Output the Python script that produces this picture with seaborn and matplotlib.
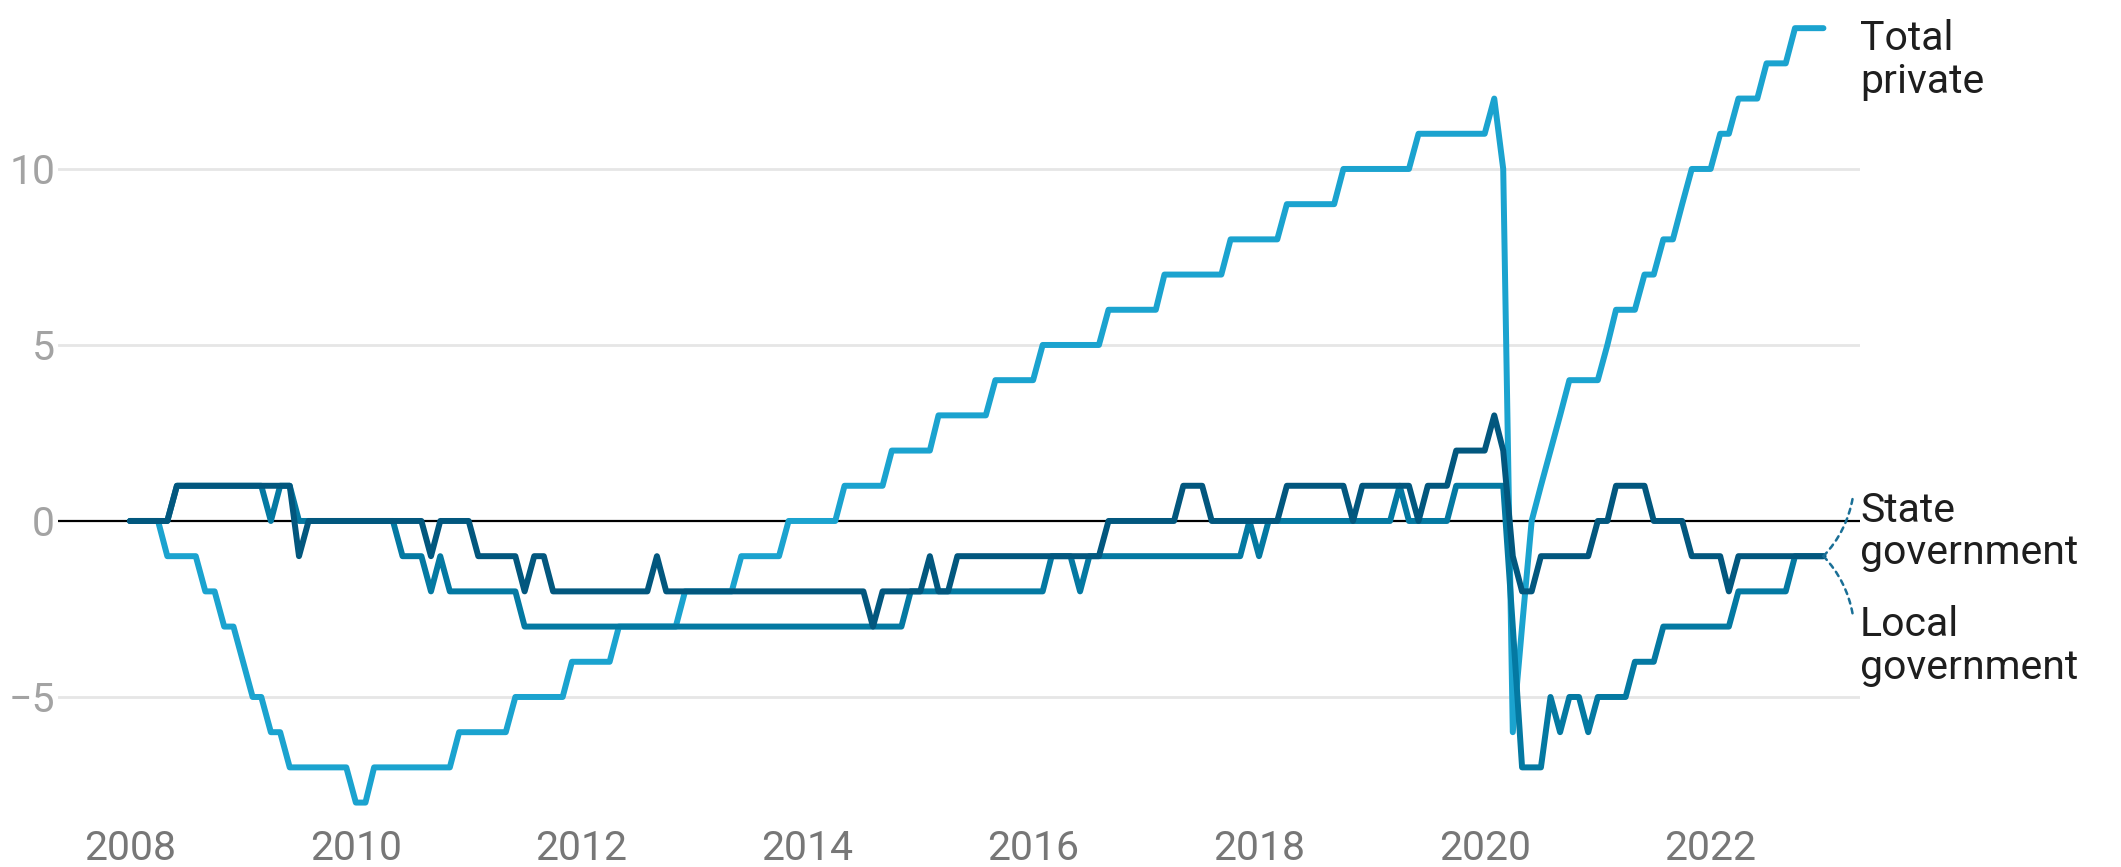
import numpy as np
import pandas as pd
import seaborn as sns
import matplotlib.pyplot as plt
import matplotlib.dates as mdates

# monthly values, Jan 2008 .. Jan 2023 (one row per year)
total_private = [
    0, 0, 0, 0, -1, -1, -1, -1, -2, -2, -3, -3,          # 2008
    -4, -5, -5, -6, -6, -7, -7, -7, -7, -7, -7, -7,      # 2009
    -8, -8, -7, -7, -7, -7, -7, -7, -7, -7, -7, -6,      # 2010
    -6, -6, -6, -6, -6, -5, -5, -5, -5, -5, -5, -4,      # 2011
    -4, -4, -4, -4, -3, -3, -3, -3, -3, -3, -3, -2,      # 2012
    -2, -2, -2, -2, -2, -1, -1, -1, -1, -1, 0, 0,        # 2013
    0, 0, 0, 0, 1, 1, 1, 1, 1, 2, 2, 2,                  # 2014
    2, 2, 3, 3, 3, 3, 3, 3, 4, 4, 4, 4,                  # 2015
    4, 5, 5, 5, 5, 5, 5, 5, 6, 6, 6, 6,                  # 2016
    6, 6, 7, 7, 7, 7, 7, 7, 7, 8, 8, 8,                  # 2017
    8, 8, 8, 9, 9, 9, 9, 9, 9, 10, 10, 10,               # 2018
    10, 10, 10, 10, 10, 11, 11, 11, 11, 11, 11, 11,      # 2019
    11, 12, 10, -6, -3, 0, 1, 2, 3, 4, 4, 4,             # 2020
    4, 5, 6, 6, 6, 7, 7, 8, 8, 9, 10, 10,                # 2021
    10, 11, 11, 12, 12, 12, 13, 13, 13, 14, 14, 14,      # 2022
    14,                                                  # 2023
]

state_gov = [
    0, 0, 0, 0, 0, 1, 1, 1, 1, 1, 1, 1,
    1, 1, 1, 1, 1, 1, -1, 0, 0, 0, 0, 0,
    0, 0, 0, 0, 0, 0, 0, 0, -1, 0, 0, 0,
    0, -1, -1, -1, -1, -1, -2, -1, -1, -2, -2, -2,
    -2, -2, -2, -2, -2, -2, -2, -2, -1, -2, -2, -2,
    -2, -2, -2, -2, -2, -2, -2, -2, -2, -2, -2, -2,
    -2, -2, -2, -2, -2, -2, -2, -3, -2, -2, -2, -2,
    -2, -1, -2, -2, -1, -1, -1, -1, -1, -1, -1, -1,
    -1, -1, -1, -1, -1, -1, -1, -1, 0, 0, 0, 0,
    0, 0, 0, 0, 1, 1, 1, 0, 0, 0, 0, 0,
    0, 0, 0, 1, 1, 1, 1, 1, 1, 1, 0, 1,
    1, 1, 1, 1, 1, 0, 1, 1, 1, 2, 2, 2,
    2, 3, 2, -1, -2, -2, -1, -1, -1, -1, -1, -1,
    0, 0, 1, 1, 1, 1, 0, 0, 0, 0, -1, -1,
    -1, -1, -2, -1, -1, -1, -1, -1, -1, -1, -1, -1,
    -1,
]

local_gov = [
    0, 0, 0, 0, 0, 1, 1, 1, 1, 1, 1, 1,
    1, 1, 1, 0, 1, 1, 0, 0, 0, 0, 0, 0,
    0, 0, 0, 0, 0, -1, -1, -1, -2, -1, -2, -2,
    -2, -2, -2, -2, -2, -2, -3, -3, -3, -3, -3, -3,
    -3, -3, -3, -3, -3, -3, -3, -3, -3, -3, -3, -3,
    -3, -3, -3, -3, -3, -3, -3, -3, -3, -3, -3, -3,
    -3, -3, -3, -3, -3, -3, -3, -3, -3, -3, -3, -2,
    -2, -2, -2, -2, -2, -2, -2, -2, -2, -2, -2, -2,
    -2, -2, -1, -1, -1, -2, -1, -1, -1, -1, -1, -1,
    -1, -1, -1, -1, -1, -1, -1, -1, -1, -1, -1, 0,
    -1, 0, 0, 0, 0, 0, 0, 0, 0, 0, 0, 0,
    0, 0, 0, 1, 0, 0, 0, 0, 0, 1, 1, 1,
    1, 1, 1, -3, -7, -7, -7, -5, -6, -5, -5, -6,
    -5, -5, -5, -5, -4, -4, -4, -3, -3, -3, -3, -3,
    -3, -3, -3, -2, -2, -2, -2, -2, -2, -1, -1, -1,
    -1,
]

series_names = ["Total private", "Local government", "State government"]
series_labels = ["Total\nprivate", "Local\ngovernment", "State\ngovernment"]
colors = {"Total private": "#1ba3cf",
          "Local government": "#0479a2",
          "State government": "#02577e"}
year_ticks = [2008, 2010, 2012, 2014, 2016, 2018, 2020, 2022]
y_ticks = [-5, 0, 5, 10]

dates = pd.date_range("2008-01-01", periods=len(total_private), freq="MS")
df = pd.concat([
    pd.DataFrame({"date": dates, "value": total_private, "series": "Total private"}),
    pd.DataFrame({"date": dates, "value": local_gov, "series": "Local government"}),
    pd.DataFrame({"date": dates, "value": state_gov, "series": "State government"}),
])

sns.set_theme(style="white")
plt.rcParams["font.family"] = ["Roboto", "DejaVu Sans"]

fig = plt.figure(figsize=(21.21, 8.67), dpi=100)
ax = fig.add_axes([0.0273, 0.054, 0.8496, 0.946])

sns.lineplot(data=df, x="date", y="value", hue="series", hue_order=series_names,
             palette=colors, linewidth=4.3, legend=False, ax=ax,
             solid_joinstyle="round", solid_capstyle="round")

ax.set_xlim(dates[0] - pd.Timedelta(days=233), dates[-1] + pd.Timedelta(days=118))
ax.set_ylim(-8.5, 14.8)

for v in y_ticks:
    if v != 0:
        ax.axhline(v, color="#e6e6e6", lw=2.0, zorder=0)
ax.axhline(0, color="black", lw=1.6, zorder=1)

ax.set_yticks(y_ticks)
ax.set_yticklabels(["\u22125", "0", "5", "10"])
ax.set_xticks([pd.Timestamp(f"{y}-01-01") for y in year_ticks])
ax.xaxis.set_major_formatter(mdates.DateFormatter("%Y"))
ax.tick_params(axis="y", length=0, pad=2, labelsize=29.5, labelcolor="#a3a3a3")
ax.tick_params(axis="x", length=0, pad=6, labelsize=29.5, labelcolor="#777777")
ax.set_xlabel("")
ax.set_ylabel("")
for s in ax.spines.values():
    s.set_visible(False)

# direct labels at the right
ytrans = ax.get_yaxis_transform()
label_y = {"Total private": 13.1, "State government": -0.3, "Local government": -3.55}
for name, lab in zip(series_names, series_labels):
    ax.text(1.0, label_y[name], lab, transform=ytrans, ha="left", va="center",
            fontsize=29.5, color="#1e1e1e", linespacing=1.12)

# dashed leaders from the shared end point to the two government labels
for y_to, rad in [(0.65, 0.15), (-2.65, -0.15)]:
    ax.annotate("", xy=(0.996, y_to), xycoords=ytrans,
                xytext=(mdates.date2num(dates[-1]), state_gov[-1]), textcoords="data",
                arrowprops=dict(arrowstyle="-", color="#1a6f96", lw=1.8,
                                linestyle=(0, (2, 2)), shrinkA=0, shrinkB=0,
                                connectionstyle=f"arc3,rad={rad}"))

fig.savefig("out.png", dpi=100)
